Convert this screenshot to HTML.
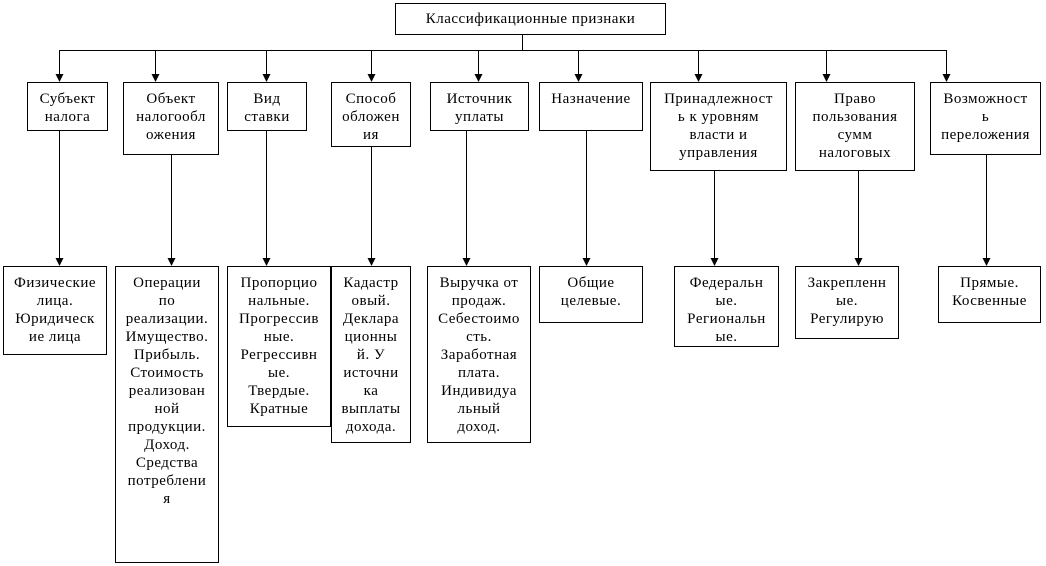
<!DOCTYPE html>
<html><head><meta charset="utf-8"><style>
body{margin:0;width:1046px;height:566px;background:#fff;position:relative;overflow:hidden;font-family:"Liberation Serif",serif;font-size:15px;letter-spacing:0.5px;color:#000}
.b{position:absolute;border:1px solid #000;box-sizing:border-box;text-align:center;line-height:18px;padding-top:7px;background:#fff;white-space:nowrap}
svg{position:absolute;left:0;top:0;z-index:2}
</style></head><body>
<div class="b" style="left:395px;top:3px;width:271px;height:32px;padding-top:6px">Классификационные признаки</div>
<div class="b" style="left:27px;top:82px;width:81px;height:49px">Субъект<br>налога</div>
<div class="b" style="left:123px;top:82px;width:96px;height:73px">Объект<br>налогообл<br>ожения</div>
<div class="b" style="left:227px;top:82px;width:80px;height:49px">Вид<br>ставки</div>
<div class="b" style="left:331px;top:82px;width:80px;height:65px">Способ<br>обложен<br>ия</div>
<div class="b" style="left:430px;top:82px;width:99px;height:49px">Источник<br>уплаты</div>
<div class="b" style="left:539px;top:82px;width:104px;height:49px">Назначение</div>
<div class="b" style="left:650px;top:82px;width:137px;height:89px">Принадлежност<br>ь к уровням<br>власти и<br>управления</div>
<div class="b" style="left:795px;top:82px;width:120px;height:89px">Право<br>пользования<br>сумм<br>налоговых</div>
<div class="b" style="left:930px;top:82px;width:111px;height:73px">Возможност<br>ь<br>переложения</div>
<div class="b" style="left:3px;top:266px;width:104px;height:89px">Физические<br>лица.<br>Юридическ<br>ие лица</div>
<div class="b" style="left:115px;top:266px;width:104px;height:297px">Операции<br>по<br>реализации.<br>Имущество.<br>Прибыль.<br>Стоимость<br>реализован<br>ной<br>продукции.<br>Доход.<br>Средства<br>потреблени<br>я</div>
<div class="b" style="left:227px;top:266px;width:104px;height:161px">Пропорцио<br>нальные.<br>Прогрессив<br>ные.<br>Регрессивн<br>ые.<br>Твердые.<br>Кратные</div>
<div class="b" style="left:331px;top:266px;width:80px;height:177px">Кадастр<br>овый.<br>Деклара<br>ционны<br>й. У<br>источни<br>ка<br>выплаты<br>дохода.</div>
<div class="b" style="left:427px;top:266px;width:104px;height:177px">Выручка от<br>продаж.<br>Себестоимо<br>сть.<br>Заработная<br>плата.<br>Индивидуа<br>льный<br>доход.</div>
<div class="b" style="left:539px;top:266px;width:104px;height:57px">Общие<br>целевые.</div>
<div class="b" style="left:674px;top:266px;width:105px;height:81px">Федеральн<br>ые.<br>Региональн<br>ые.</div>
<div class="b" style="left:795px;top:266px;width:104px;height:73px">Закрепленн<br>ые.<br>Регулирую</div>
<div class="b" style="left:938px;top:266px;width:103px;height:57px">Прямые.<br>Косвенные</div>
<svg width="1046" height="566">
<g stroke="#000" stroke-width="1" fill="none">
<line x1="522.5" y1="34" x2="522.5" y2="50.5"/>
<line x1="59" y1="50.5" x2="947" y2="50.5"/>
<path d="M59.5 50V76M155.5 50V76M266.5 50V76M371.5 50V76M478.5 50V76M578.5 50V76M698.5 50V76M826.5 50V76M946.5 50V76"/>
<path d="M59.5 130V260M171.5 154V260M266.5 130V260M371.5 146V260M466.5 130V260M586.5 130V260M714.5 170V260M858.5 170V260M986.5 154V260"/>
</g>
<g fill="#000">
<path d="M55.5 74h8l-4 8z"/><path d="M151.5 74h8l-4 8z"/><path d="M262.5 74h8l-4 8z"/><path d="M367.5 74h8l-4 8z"/><path d="M474.5 74h8l-4 8z"/><path d="M574.5 74h8l-4 8z"/><path d="M694.5 74h8l-4 8z"/><path d="M822.5 74h8l-4 8z"/><path d="M942.5 74h8l-4 8z"/>
<path d="M55.5 258h8l-4 8z"/><path d="M167.5 258h8l-4 8z"/><path d="M262.5 258h8l-4 8z"/><path d="M367.5 258h8l-4 8z"/><path d="M462.5 258h8l-4 8z"/><path d="M582.5 258h8l-4 8z"/><path d="M710.5 258h8l-4 8z"/><path d="M854.5 258h8l-4 8z"/><path d="M982.5 258h8l-4 8z"/>
</g></svg>
</body></html>
